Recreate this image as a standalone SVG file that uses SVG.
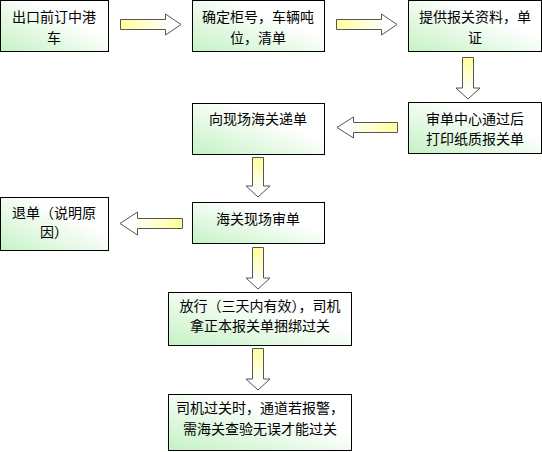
<svg xmlns="http://www.w3.org/2000/svg" width="542" height="452" viewBox="0 0 542 452">
<defs>
<linearGradient id="boxg" x1="0" y1="1" x2="1" y2="0">
<stop offset="0" stop-color="#c4f2c4"/>
<stop offset="0.65" stop-color="#ffffff"/>
<stop offset="1" stop-color="#ffffff"/>
</linearGradient>
<linearGradient id="ar" x1="0" y1="0" x2="1" y2="0">
<stop offset="0" stop-color="#ffff99"/>
<stop offset="0.8" stop-color="#ffffff"/>
</linearGradient>
<linearGradient id="al" x1="1" y1="0" x2="0" y2="0">
<stop offset="0" stop-color="#ffff99"/>
<stop offset="0.8" stop-color="#ffffff"/>
</linearGradient>
<linearGradient id="ad" x1="0" y1="0" x2="0" y2="1">
<stop offset="0" stop-color="#ffff99"/>
<stop offset="0.8" stop-color="#ffffff"/>
</linearGradient>
</defs>
<style>
.box{fill:url(#boxg);stroke:#000;stroke-width:1}
.t{font-family:"Noto Sans CJK SC","Noto Sans",sans-serif;font-size:14px;fill:#000;text-anchor:middle;dominant-baseline:central}
.arr{stroke:#555;stroke-width:1;stroke-linejoin:miter}
</style>
<rect width="542" height="452" fill="#fff"/>
<g id="connectors">
<path class="arr" fill="url(#ar)" d="M120.5,19.5 H165.5 V14 L181,24.5 L165.5,35 V29.5 H120.5 Z"/>
<path class="arr" fill="url(#ar)" d="M336.5,19.5 H381.5 V14 L397,24.5 L381.5,35 V29.5 H336.5 Z"/>
<path class="arr" fill="url(#ad)" d="M462.5,57.5 H473.5 V88 H480 L468,99 L456,88 H462.5 Z"/>
<path class="arr" fill="url(#al)" d="M397.5,122.5 H353.5 V117 L337,127.5 L353.5,138 V132.5 H397.5 Z"/>
<path class="arr" fill="url(#ad)" d="M252.5,157.5 H263.5 V186 H270 L258,197 L246,186 H252.5 Z"/>
<path class="arr" fill="url(#al)" d="M182.5,218.5 H137.5 V212 L120,223.5 L137.5,235 V228.5 H182.5 Z"/>
<path class="arr" fill="url(#ad)" d="M252.5,247.5 H263.5 V278 H270 L258,289 L246,278 H252.5 Z"/>
<path class="arr" fill="url(#ad)" d="M252.5,348.5 H263.5 V379 H270 L258,390 L246,379 H252.5 Z"/>
</g>
<g id="n1"><rect class="box" x="0.5" y="0.5" width="108" height="51"/>
<text class="t" x="54" y="16">出口前订中港</text><text class="t" x="54" y="37">车</text></g>
<g id="n2"><rect class="box" x="192.5" y="0.5" width="132" height="51"/>
<text class="t" x="258" y="16">确定柜号，车辆吨</text><text class="t" x="258" y="37">位，清单</text></g>
<g id="n3"><rect class="box" x="408.5" y="0.5" width="133" height="51"/>
<text class="t" x="475" y="16">提供报关资料，单</text><text class="t" x="475" y="37">证</text></g>
<g id="n4"><rect class="box" x="408.5" y="102.5" width="133" height="51"/>
<text class="t" x="475" y="117.5">审单中心通过后</text><text class="t" x="475" y="138">打印纸质报关单</text></g>
<g id="n5"><rect class="box" x="192.5" y="103.5" width="132" height="51"/>
<text class="t" x="258" y="117.5">向现场海关递单</text></g>
<g id="n6"><rect class="box" x="0.5" y="197.5" width="108" height="53"/>
<text class="t" x="54" y="211.5">退单（说明原</text><text class="t" x="54" y="231">因）</text></g>
<g id="n7"><rect class="box" x="192.5" y="202.5" width="132" height="41"/>
<text class="t" x="258" y="217.5">海关现场审单</text></g>
<g id="n8"><rect class="box" x="168.5" y="292.5" width="183" height="53"/>
<text class="t" x="260" y="305">放行（三天内有效），司机</text><text class="t" x="260" y="325">拿正本报关单捆绑过关</text></g>
<g id="n9"><rect class="box" x="168.5" y="394.5" width="183" height="56"/>
<text class="t" x="260" y="407">司机过关时，通道若报警，</text><text class="t" x="260" y="428">需海关查验无误才能过关</text></g>
</svg>
